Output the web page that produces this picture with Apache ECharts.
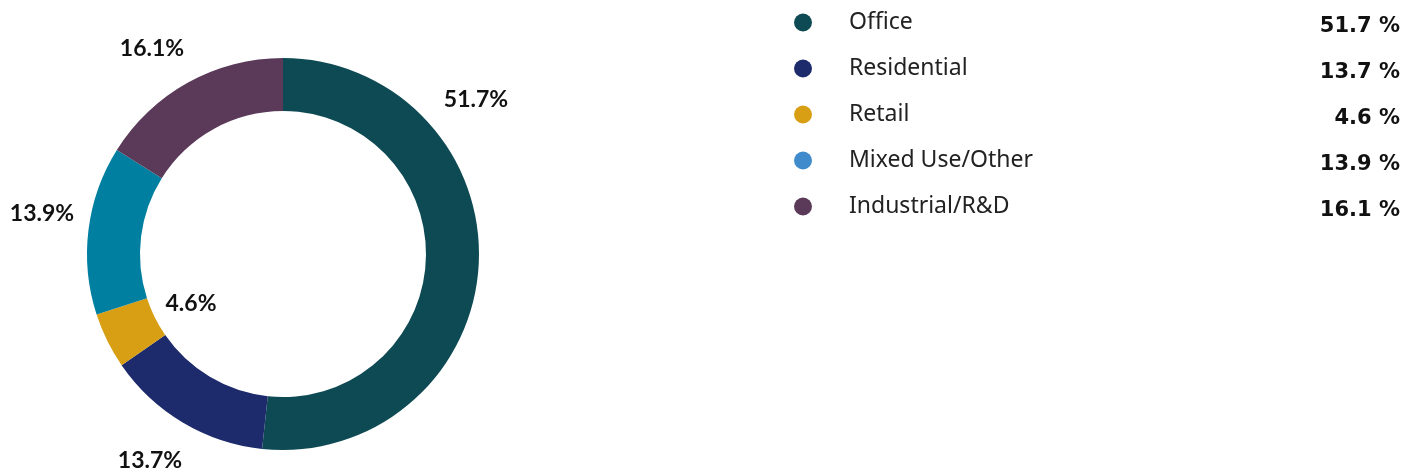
<!DOCTYPE html>
<html lang="en">
<head>
    <meta charset="UTF-8">
    <title>Property type mix</title>
    <script src="https://cdn.jsdelivr.net/npm/echarts@6/dist/echarts.min.js"></script>
    <style>
        html, body { margin: 0; padding: 0; background: #fff; }
        #main { width: 1417px; height: 476px; }
    </style>
</head>
<body>
    <div id="main"></div>
    <script type="text/javascript">
        // data
        const categories = ['Office', 'Residential', 'Retail', 'Mixed Use/Other', 'Industrial/R&D'];
        const shares = [51.7, 13.7, 4.6, 13.9, 16.1];
        const sliceColors = ['#0e4a53', '#1d2a6c', '#d89f14', '#017fa1', '#5b3a59'];
        const legendColors = ['#0e4a53', '#1d2a6c', '#d89f14', '#3f8bcb', '#5b3a59'];

        // where each slice label sits (pixel centre of text)
        const labelSpots = [[476, 100], [150, 461], [191, 304], [42, 214], [152, 49]];

        const grafico = echarts.init(document.getElementById('main'));
        const option = {
            animation: false,
            legend: {
                orient: 'vertical',
                left: 789,
                top: 3,
                icon: 'circle',
                itemWidth: 18,
                itemHeight: 18,
                itemGap: 17,
                selectedMode: false,
                data: categories.map((name, i) => ({ name: name, itemStyle: { color: legendColors[i] } })),
                formatter: function (name) {
                    const i = categories.indexOf(name);
                    return '{n|' + name + '}{v|' + shares[i].toFixed(1) + ' %}';
                },
                textStyle: {
                    padding: [0, 0, 0, 32],
                    lineHeight: 26,
                    rich: {
                        n: { fontFamily: 'Noto Sans', fontSize: 23, color: '#222', width: 451, lineHeight: 26 },
                        v: { fontFamily: 'DejaVu Sans', fontWeight: 'bold', fontSize: 21, color: '#111', width: 100, align: 'right', lineHeight: 26, padding: [8, 0, 0, 0] }
                    }
                }
            },
            series: [
                {
                    type: 'pie',
                    center: [283, 254],
                    radius: [143, 196],
                    startAngle: 90,
                    clockwise: true,
                    avoidLabelOverlap: false,
                    data: categories.map((name, i) => ({
                        name: name,
                        value: shares[i],
                        itemStyle: { color: sliceColors[i] }
                    })),
                    label: {
                        show: true,
                        position: 'outside',
                        formatter: (p) => p.value.toFixed(1) + '%',
                        fontFamily: 'Lato',
                        fontWeight: 'bold',
                        fontSize: 23,
                        color: '#111'
                    },
                    labelLine: { show: false },
                    labelLayout: function (p) {
                        const s = labelSpots[p.dataIndex];
                        return { x: s[0], y: s[1], align: 'center', verticalAlign: 'middle' };
                    },
                    emphasis: { disabled: true }
                }
            ]
        };
        grafico.setOption(option);
    </script>
</body>
</html>
